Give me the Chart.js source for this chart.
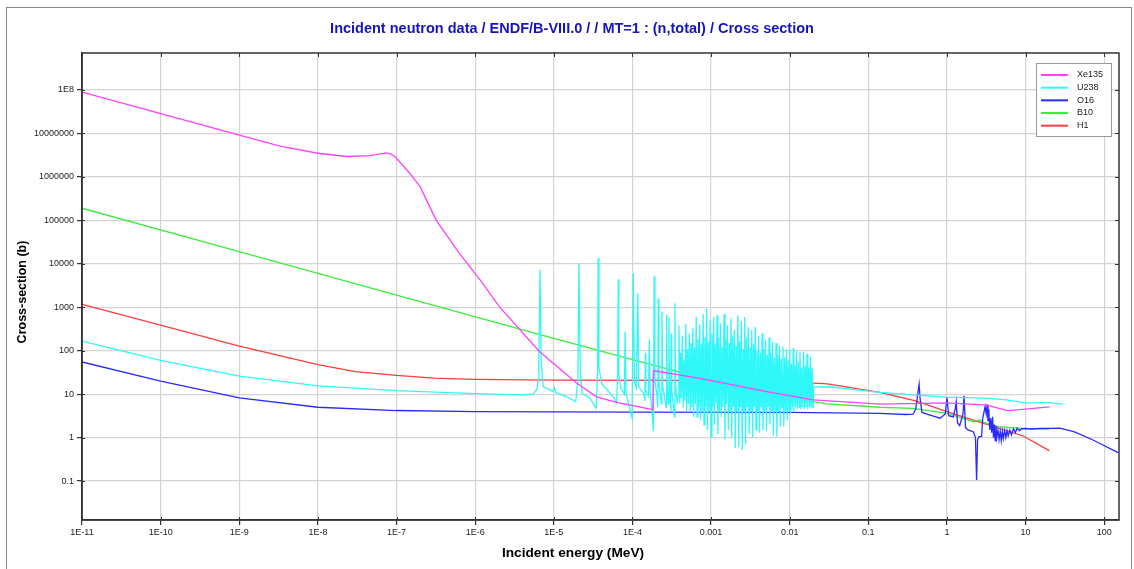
<!DOCTYPE html>
<html>
<head>
<meta charset="utf-8">
<title>Incident neutron data - total cross section</title>
<script src="https://cdn.jsdelivr.net/npm/chart.js@4.4.1/dist/chart.umd.min.js"></script>
<style>
  html, body { margin: 0; padding: 0; background: #fff; }
  #wrap { position: relative; width: 1134px; height: 569px; }
  #frame { position: absolute; left: 6px; top: 7px; width: 1126px; height: 562px; border: 1px solid #888; border-bottom: none; box-sizing: border-box; pointer-events: none; }
  canvas { display: block; }
</style>
</head>
<body>
<div id="wrap">
  <canvas id="xsChart" width="1134" height="569"></canvas>
  <div id="frame"></div>
</div>
<script>
// Texts
const chartTitle = "Incident neutron data / ENDF/B-VIII.0 / / MT=1 : (n,total) / Cross section";
const xTitle = "Incident energy (MeV)";
const yTitle = "Cross-section (b)";

// Axis ticks
const xTickValues = [1e-11, 1e-10, 1e-9, 1e-8, 1e-7, 1e-6, 1e-5, 1e-4, 1e-3, 1e-2, 0.1, 1, 10, 100];
const xTickLabels = ["1E-11", "1E-10", "1E-9", "1E-8", "1E-7", "1E-6", "1E-5", "1E-4", "0.001", "0.01", "0.1", "1", "10", "100"];
const yTickValues = [0.1, 1, 10, 100, 1000, 1e4, 1e5, 1e6, 1e7, 1e8];
const yTickLabels = ["0.1", "1", "10", "100", "1000", "10000", "100000", "1000000", "10000000", "1E8"];
const xRange = [1e-11, 154];
const yRange = [0.0127, 7.1e8];

// Series: [energy MeV, cross-section b]
const xe135 = [
  [1e-11, 8.9e7], [9.8e-11, 2.9e7], [1e-9, 9.1e6], [3.3e-9, 5.1e6], [1e-8, 3.5e6],
  [2.3e-8, 2.95e6], [4.6e-8, 3.1e6], [6.2e-8, 3.4e6], [7.4e-8, 3.55e6], [8.4e-8, 3.4e6],
  [9.6e-8, 2.9e6], [1.1e-7, 2.2e6], [1.48e-7, 1.2e6], [2e-7, 5.9e5], [3.2e-7, 1e5],
  [6.3e-7, 1.74e4], [1.15e-6, 4300], [2.04e-6, 1020], [6.6e-6, 95], [1.95e-5, 18],
  [3.5e-5, 8.7], [6.3e-5, 6.5], [1.82e-4, 4.4], [1.84e-4, 35], [7.2e-4, 23],
  [5.1e-3, 11.5], [0.02, 7.4], [0.14, 5.9], [1, 6.3], [3.2, 5.6], [5.9, 4.2],
  [8.5, 4.4], [20, 5.1]
];

const u238 = [
  [1e-11, 166], [1e-10, 60], [1e-9, 26], [1e-8, 15.5], [1e-7, 12], [1e-6, 10.3],
  [4e-6, 9.6], [5.5e-6, 10.2], [6.1e-6, 13], [6.3e-6, 20], [6.45e-6, 60], [6.67e-6, 7400],
  [6.9e-6, 60], [7.3e-6, 15], [9.8e-6, 11.5], [1.02e-5, 14], [1.05e-5, 11], [1.46e-5, 8.7],
  [1.9e-5, 6.7], [2.02e-5, 20], [2.09e-5, 10000], [2.17e-5, 30], [2.3e-5, 10.5], [2.9e-5, 8],
  [3.45e-5, 4.7], [3.6e-5, 30], [3.67e-5, 13500], [3.75e-5, 40], [4.1e-5, 17], [5.7e-5, 8.7],
  [6.3e-5, 6.2], [6.5e-5, 30], [6.6e-5, 4400], [6.7e-5, 30], [7.1e-5, 14], [7.9e-5, 10],
  [8.07e-5, 275], [8.3e-5, 10], [9.9e-5, 2.8], [1.025e-4, 6000], [1.06e-4, 20], [1.12e-4, 14],
  [1.169e-4, 2100], [1.2e-4, 15], [1.4e-4, 10], [1.44e-4, 7], [1.457e-4, 90], [1.48e-4, 12],
  [1.6e-4, 9], [1.64e-4, 180], [1.68e-4, 12], [1.85e-4, 1.4], [1.89e-4, 5200], [1.93e-4, 20],
  [2.05e-4, 9], [2.1e-4, 5], [2.13e-4, 1600], [2.17e-4, 18], [2.33e-4, 6], [2.37e-4, 800],
  [2.42e-4, 16], [2.68e-4, 5], [2.72e-4, 690], [2.77e-4, 14], [2.87e-4, 6], [2.91e-4, 600],
  [2.96e-4, 15], [3.08e-4, 4], [3.11e-4, 250], [3.16e-4, 13], [3.42e-4, 3], [3.47e-4, 1230],
  [3.53e-4, 18], [3.7e-4, 6],
  // resonance forest, 0.38 - 20 keV
  [3.80e-4, 9], [3.90e-4, 380], [4.00e-4, 6], [4.10e-4, 90], [4.20e-4, 8], [4.31e-4, 220],
  [4.42e-4, 5], [4.53e-4, 60], [4.65e-4, 7], [4.77e-4, 420], [4.89e-4, 4], [5.02e-4, 110],
  [5.15e-4, 6], [5.28e-4, 250], [5.42e-4, 4], [5.56e-4, 150], [5.70e-4, 5], [5.85e-4, 330],
  [6.00e-4, 3], [6.15e-4, 120], [6.31e-4, 6], [6.47e-4, 600], [6.64e-4, 3], [6.81e-4, 180],
  [6.98e-4, 5], [7.16e-4, 400], [7.35e-4, 2.5], [7.54e-4, 140], [7.73e-4, 4], [7.93e-4, 700],
  [8.13e-4, 2], [8.34e-4, 200], [8.56e-4, 5], [8.78e-4, 950], [9.00e-4, 1.5], [9.24e-4, 160],
  [9.47e-4, 4], [9.72e-4, 500],
  [1.00e-3, 1.05], [1.025e-3, 250], [1.05e-3, 5], [1.08e-3, 600], [1.10e-3, 2], [1.13e-3, 140],
  [1.16e-3, 6], [1.19e-3, 650], [1.22e-3, 1.2], [1.25e-3, 200], [1.28e-3, 4], [1.32e-3, 420],
  [1.35e-3, 3], [1.39e-3, 120], [1.42e-3, 5], [1.46e-3, 700], [1.50e-3, 0.9], [1.53e-3, 180],
  [1.57e-3, 6], [1.61e-3, 380], [1.66e-3, 1.5], [1.70e-3, 150], [1.74e-3, 4], [1.79e-3, 550],
  [1.83e-3, 1.0], [1.88e-3, 220], [1.93e-3, 5], [1.98e-3, 300], [2.03e-3, 0.57], [2.08e-3, 130],
  [2.13e-3, 4], [2.19e-3, 650], [2.25e-3, 0.6], [2.30e-3, 170], [2.36e-3, 5], [2.42e-3, 480],
  [2.49e-3, 0.52], [2.55e-3, 110], [2.62e-3, 4], [2.68e-3, 600], [2.75e-3, 0.7], [2.82e-3, 200],
  [2.90e-3, 5], [2.97e-3, 350], [3.05e-3, 1.2], [3.13e-3, 120], [3.21e-3, 4], [3.29e-3, 300],
  [3.37e-3, 1.0], [3.46e-3, 140], [3.55e-3, 5], [3.64e-3, 350], [3.73e-3, 1.5], [3.83e-3, 100],
  [3.93e-3, 4], [4.03e-3, 220], [4.13e-3, 1.3], [4.24e-3, 90], [4.35e-3, 5], [4.46e-3, 250],
  [4.57e-3, 1.5], [4.69e-3, 110], [4.81e-3, 4], [4.94e-3, 180], [5.06e-3, 1.4], [5.19e-3, 80],
  [5.33e-3, 5], [5.46e-3, 200], [5.60e-3, 2], [5.75e-3, 90], [5.90e-3, 4], [6.05e-3, 160],
  [6.20e-3, 1.1], [6.36e-3, 70], [6.53e-3, 4], [6.70e-3, 150], [6.87e-3, 1.05], [7.04e-3, 80],
  [7.22e-3, 4], [7.41e-3, 130], [7.60e-3, 1.8], [7.80e-3, 65], [8.00e-3, 5], [8.20e-3, 125],
  [8.41e-3, 1.8], [8.63e-3, 70], [8.85e-3, 4], [9.08e-3, 110], [9.31e-3, 2.5], [9.55e-3, 60],
  [9.80e-3, 4],
  [1.00e-2, 110], [1.03e-2, 3.6], [1.05e-2, 50], [1.08e-2, 5], [1.11e-2, 115], [1.13e-2, 4],
  [1.16e-2, 45], [1.19e-2, 5], [1.22e-2, 100], [1.25e-2, 4.5], [1.29e-2, 55], [1.32e-2, 5],
  [1.35e-2, 95], [1.39e-2, 4.5], [1.42e-2, 40], [1.46e-2, 5], [1.50e-2, 96], [1.54e-2, 4.5],
  [1.58e-2, 45], [1.62e-2, 5], [1.66e-2, 85], [1.70e-2, 4.5], [1.74e-2, 40], [1.79e-2, 5],
  [1.83e-2, 73], [1.88e-2, 5], [1.93e-2, 40], [1.98e-2, 5], [2.00e-2, 14.5],
  // smooth part
  [0.032, 14.8], [0.059, 13], [0.14, 11], [0.4, 9.5], [1, 8.5], [3.5, 8.0], [6, 7.3],
  [10.4, 6.2], [15, 6.4], [20, 6.4], [30, 5.9]
];

const o16 = [
  [1e-11, 55], [1e-10, 20], [1e-9, 8.2], [1e-8, 5.0], [1e-7, 4.2], [1e-6, 3.95], [1e-4, 3.85],
  [0.01, 3.8], [0.14, 3.62], [0.3, 3.4], [0.37, 3.45], [0.40, 4.5], [0.425, 10], [0.442, 17],
  [0.455, 8], [0.48, 3.8], [0.61, 3.3], [0.82, 2.8], [0.95, 3.5], [1.0, 8.4], [1.05, 3.2],
  [1.2, 3.0], [1.27, 4.5], [1.31, 6.7], [1.36, 2.2], [1.45, 1.9], [1.6, 3.5], [1.65, 9.2],
  [1.72, 1.7], [1.85, 1.5], [2.17, 1.35], [2.3, 1.0], [2.38, 0.106], [2.45, 0.9], [2.55, 1.05],
  [2.75, 1.05], [2.85, 2.8], [2.95, 3.8], [3.05, 5.2], [3.15, 3.5], [3.25, 5.8], [3.32, 2.4],
  [3.4, 4.5], [3.5, 1.5], [3.6, 2.8], [3.7, 1.3], [3.8, 3.0], [3.9, 1.0], [4.0, 2.0],
  [4.1, 0.85], [4.2, 1.9], [4.3, 1.0], [4.45, 1.5], [4.6, 0.9], [4.75, 1.4], [4.9, 0.85],
  [5.05, 1.4], [5.2, 0.95], [5.4, 1.45], [5.6, 1.0], [5.8, 1.45], [6.0, 1.1], [6.3, 1.5],
  [6.6, 1.15], [7.0, 1.6], [7.4, 1.3], [7.8, 1.65], [8.3, 1.45], [9, 1.6], [10, 1.62],
  [12, 1.58], [15, 1.62], [20, 1.63], [27, 1.66], [41, 1.37], [72, 0.88], [150, 0.45]
];

const b10 = [
  [1e-11, 1.9e5], [1e-9, 1.9e4], [1e-7, 1900], [1e-5, 192], [1e-4, 62], [1e-3, 21],
  [0.01, 8.2], [0.03, 6.0], [0.14, 5.0], [0.37, 4.7], [1, 3.6], [2.17, 2.33], [2.64, 2.54],
  [3.0, 2.2], [4.3, 1.79], [9.3, 1.63], [20, 1.57]
];

const h1 = [
  [1e-11, 1170], [1e-10, 390], [1e-9, 128], [1e-8, 48], [3e-8, 33], [1e-7, 27], [3e-7, 23.5],
  [1e-6, 22], [1e-5, 21], [1e-3, 20.6], [0.01, 19.5], [0.03, 17.2], [0.14, 11], [0.4, 7],
  [1, 3.95], [3, 2.1], [9.3, 1.09], [20, 0.5]
];

const toXY = arr => arr.map(p => ({ x: p[0], y: p[1] }));

function tickLabel(values, labels, v) {
  const i = values.findIndex(t => Math.abs(Math.log10(t) - Math.log10(v)) < 1e-6);
  return i < 0 ? "" : labels[i];
}

// Title, axis titles, plot box, legend
const decorPlugin = {
  id: "decor",
  afterDraw(chart) {
    const { ctx, chartArea: a } = chart;
    ctx.save();

    // plot frame
    ctx.strokeStyle = "#333";
    ctx.lineWidth = 1.5;
    ctx.strokeRect(a.left, a.top, a.right - a.left, a.bottom - a.top);

    // inner tick marks
    const xs = chart.scales.x, ys = chart.scales.y;
    ctx.lineWidth = 1;
    ctx.beginPath();
    xTickValues.forEach(v => {
      const px = Math.round(xs.getPixelForValue(v)) + 0.5;
      ctx.moveTo(px, a.top); ctx.lineTo(px, a.top + 4);
      ctx.moveTo(px, a.bottom); ctx.lineTo(px, a.bottom - 3);
    });
    yTickValues.forEach(v => {
      const py = Math.round(ys.getPixelForValue(v)) + 0.5;
      ctx.moveTo(a.right, py); ctx.lineTo(a.right - 4, py);
      ctx.moveTo(a.left, py); ctx.lineTo(a.left + 3, py);
    });
    ctx.stroke();

    // titles
    ctx.textAlign = "center";
    ctx.textBaseline = "middle";
    ctx.fillStyle = "#1414c4";
    ctx.font = 'bold 14.5px "Liberation Sans", Arial, sans-serif';
    ctx.fillText(chartTitle, 572, 29);

    ctx.fillStyle = "#000";
    ctx.font = 'bold 13.7px "Liberation Sans", Arial, sans-serif';
    ctx.fillText(xTitle, 573, 553);
    ctx.save();
    ctx.translate(23, 292);
    ctx.rotate(-Math.PI / 2);
    ctx.font = 'bold 12.5px "Liberation Sans", Arial, sans-serif';
    ctx.fillText(yTitle, 0, 0);
    ctx.restore();

    // legend
    const lx = 1036, ly = 63, lw = 75, lh = 73;
    ctx.fillStyle = "#fff";
    ctx.fillRect(lx, ly, lw, lh);
    ctx.strokeStyle = "#999";
    ctx.lineWidth = 1;
    ctx.strokeRect(lx + 0.5, ly + 0.5, lw, lh);
    ctx.font = '9px "Liberation Sans", Arial, sans-serif';
    ctx.textAlign = "left";
    chart.data.datasets.forEach((ds, i) => {
      const y = ly + 12 + i * 12.67;
      ctx.strokeStyle = ds.borderColor;
      ctx.lineWidth = 2;
      ctx.beginPath();
      ctx.moveTo(lx + 5, y);
      ctx.lineTo(lx + 32, y);
      ctx.stroke();
      ctx.fillStyle = "#222";
      ctx.fillText(ds.label, lx + 41, y);
    });
    ctx.restore();
  }
};

Chart.defaults.font.family = '"Liberation Sans", Arial, sans-serif';

const ctx = document.getElementById("xsChart").getContext("2d");
const xsChart = new Chart(ctx, {
  type: "line",
  data: {
    datasets: [
      { label: "Xe135", data: toXY(xe135), borderColor: "#ff40ff" },
      { label: "U238", data: toXY(u238), borderColor: "#30f8f8" },
      { label: "O16", data: toXY(o16), borderColor: "#2a2aff" },
      { label: "B10", data: toXY(b10), borderColor: "#3cec3c" },
      { label: "H1", data: toXY(h1), borderColor: "#ff3c3c" }
    ]
  },
  options: {
    responsive: false,
    animation: false,
    events: [],
    elements: {
      point: { radius: 0 },
      line: { borderWidth: 1.3, tension: 0, fill: false }
    },
    layout: { padding: { top: 53, right: 15, left: 0, bottom: 0 } },
    plugins: {
      legend: { display: false },
      title: { display: false },
      tooltip: { enabled: false }
    },
    scales: {
      x: {
        type: "logarithmic",
        min: xRange[0],
        max: xRange[1],
        afterBuildTicks: s => { s.ticks = xTickValues.map(v => ({ value: v })); },
        afterFit: s => { s.height = 49; },
        ticks: {
          autoSkip: false, maxRotation: 0, padding: 2,
          color: "#222", font: { size: 9 },
          callback: v => tickLabel(xTickValues, xTickLabels, v)
        },
        grid: { color: "#d4d4d4", lineWidth: 1.2, tickLength: 5, tickColor: "#333" },
        border: { color: "#333", width: 1.5 }
      },
      y: {
        type: "logarithmic",
        min: yRange[0],
        max: yRange[1],
        afterBuildTicks: s => { s.ticks = yTickValues.map(v => ({ value: v })); },
        afterFit: s => { s.width = 82; },
        ticks: {
          autoSkip: false, padding: 3,
          color: "#222", font: { size: 9 },
          callback: v => tickLabel(yTickValues, yTickLabels, v)
        },
        grid: { color: "#d4d4d4", lineWidth: 1.2, tickLength: 5, tickColor: "#333" },
        border: { color: "#333", width: 1.5 }
      }
    }
  },
  plugins: [decorPlugin]
});
</script>
</body>
</html>
